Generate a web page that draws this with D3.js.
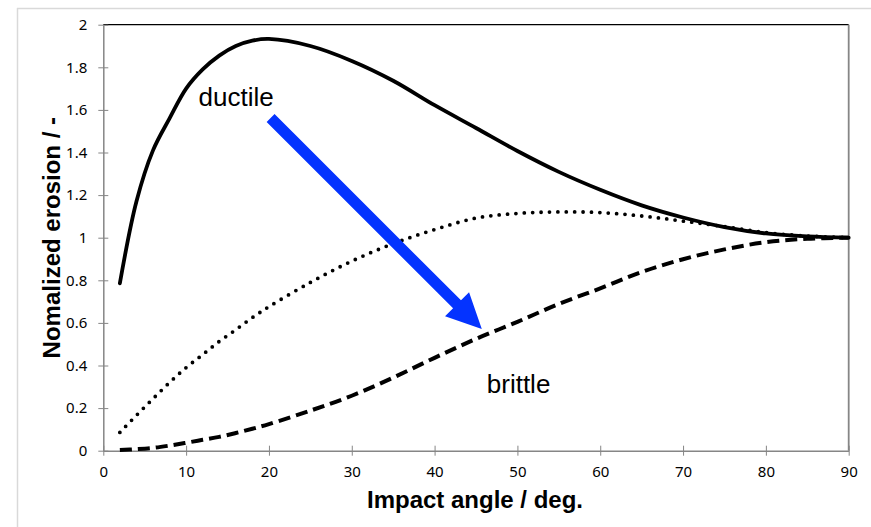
<!DOCTYPE html>
<html>
<head>
<meta charset="utf-8">
<script src="https://cdn.jsdelivr.net/npm/d3@7"></script>
<style>
  html, body { margin: 0; padding: 0; background: #fff; }
  svg { display: block; }
</style>
</head>
<body>
<svg id="chart" width="871" height="527"></svg>
<script>
// Impact angle in degrees (shared by all three curves)
const angles = [2, 4, 6, 8, 10, 12, 14, 16, 18, 20, 25, 30, 35, 40, 45, 50, 55, 60, 65, 70, 75, 80, 85, 90];

// Normalized erosion for the three material behaviours
const ductileValues = [0.786, 1.17, 1.41, 1.56, 1.70, 1.79, 1.855, 1.90, 1.925, 1.933, 1.90, 1.83, 1.737, 1.622, 1.515, 1.407, 1.309, 1.225, 1.152, 1.095, 1.05, 1.02, 1.006, 1.0];
const intermediateValues = [0.086, 0.166, 0.244, 0.32, 0.39, 0.451, 0.513, 0.568, 0.625, 0.676, 0.79, 0.89, 0.972, 1.038, 1.092, 1.114, 1.121, 1.118, 1.102, 1.078, 1.052, 1.024, 1.008, 1.0];
const brittleValues = [0.003, 0.007, 0.013, 0.024, 0.037, 0.051, 0.065, 0.083, 0.103, 0.125, 0.188, 0.258, 0.343, 0.436, 0.525, 0.605, 0.689, 0.762, 0.839, 0.899, 0.945, 0.979, 0.995, 1.0];

// Axis ticks
const xTicks = [0, 10, 20, 30, 40, 50, 60, 70, 80, 90];
const yTicks = [0, 0.2, 0.4, 0.6, 0.8, 1, 1.2, 1.4, 1.6, 1.8, 2];

// Annotation arrow, from ductile towards brittle (angle, erosion)
const arrowFrom = [20.2, 1.562];
const arrowTo = [45.7, 0.571];

// Text labels placed in data units (angle, erosion)
const labels = [
  { text: "ductile", at: [11.5, 1.616] },
  { text: "brittle", at: [46.3, 0.270] }
];

const svg = d3.select("#chart");
const plot = { left: 103.3, right: 848.7, top: 24.7, bottom: 450.7 };

const x = d3.scaleLinear().domain([0, 90]).range([plot.left, plot.right]);
const y = d3.scaleLinear().domain([0, 2]).range([plot.bottom, plot.top]);

// Chart area frame (top and left edges visible)
svg.append("line").attr("x1", 17).attr("x2", 871).attr("y1", 8.5).attr("y2", 8.5)
  .attr("stroke", "#d9d9d9").attr("stroke-width", 1.5);
svg.append("line").attr("x1", 17.5).attr("x2", 17.5).attr("y1", 8).attr("y2", 527)
  .attr("stroke", "#d9d9d9").attr("stroke-width", 1.5);

// Plot area: black top edge, grey right edge
svg.append("line").attr("x1", plot.left).attr("x2", plot.right).attr("y1", plot.top).attr("y2", plot.top)
  .attr("stroke", "#000").attr("stroke-width", 1.2);
svg.append("line").attr("x1", plot.right).attr("x2", plot.right).attr("y1", plot.top).attr("y2", plot.bottom)
  .attr("stroke", "#868686").attr("stroke-width", 1.8);

const tickFont = "'Noto Sans', 'Open Sans', sans-serif";

// X axis
const xAxis = d3.axisBottom(x).tickValues(xTicks).tickFormat(d3.format("d")).tickSizeInner(5).tickSizeOuter(0).tickPadding(11);
const gx = svg.append("g").attr("transform", `translate(0,${plot.bottom})`).call(xAxis);
gx.select(".domain").attr("stroke", "#868686").attr("stroke-width", 1.5);
gx.selectAll(".tick line").attr("stroke", "#868686").attr("y1", -5).attr("y2", 5);
gx.selectAll(".tick text").attr("font-family", tickFont).attr("font-size", 15).attr("fill", "#000");

// Y axis
const yAxis = d3.axisLeft(y).tickValues(yTicks).tickFormat(d => d3.format("~g")(d)).tickSizeInner(5).tickSizeOuter(0).tickPadding(11);
const gy = svg.append("g").attr("transform", `translate(${plot.left},0)`).call(yAxis);
gy.select(".domain").attr("stroke", "#868686").attr("stroke-width", 1.5);
gy.selectAll(".tick line").attr("stroke", "#868686").attr("x1", -5).attr("x2", 5);
gy.selectAll(".tick text").attr("font-family", tickFont).attr("font-size", 15).attr("fill", "#000");

// Curves
const line = d3.line()
  .x(d => x(d[0]))
  .y(d => y(d[1]))
  .curve(d3.curveCatmullRom.alpha(0.5));

const series = [
  { values: intermediateValues, width: 3.8, dash: "0 8.4", cap: "round" },
  { values: brittleValues, width: 4, dash: "12 6", cap: "butt" },
  { values: ductileValues, width: 3.8, dash: null, cap: "round" }
];

series.forEach(s => {
  svg.append("path")
    .datum(angles.map((a, i) => [a, s.values[i]]))
    .attr("d", line)
    .attr("fill", "none")
    .attr("stroke", "#000")
    .attr("stroke-width", s.width)
    .attr("stroke-linecap", s.cap)
    .attr("stroke-linejoin", "round")
    .attr("stroke-dasharray", s.dash);
});

// Blue arrow
(function drawArrow() {
  const x0 = x(arrowFrom[0]), y0 = y(arrowFrom[1]);
  const x1 = x(arrowTo[0]), y1 = y(arrowTo[1]);
  const dx = x1 - x0, dy = y1 - y0;
  const len = Math.hypot(dx, dy);
  const ux = dx / len, uy = dy / len;
  const px = -uy, py = ux;
  const shaftHalf = 5.6, headHalf = 17, headLen = 35;
  const bx = x1 - ux * headLen, by = y1 - uy * headLen;
  const pts = [
    [x0 + px * shaftHalf, y0 + py * shaftHalf],
    [bx + px * shaftHalf, by + py * shaftHalf],
    [bx + px * headHalf, by + py * headHalf],
    [x1, y1],
    [bx - px * headHalf, by - py * headHalf],
    [bx - px * shaftHalf, by - py * shaftHalf],
    [x0 - px * shaftHalf, y0 - py * shaftHalf]
  ];
  svg.append("polygon")
    .attr("points", pts.map(p => p.join(",")).join(" "))
    .attr("fill", "#0433ff");
})();

// Curve labels
svg.selectAll("text.curve-label")
  .data(labels)
  .enter().append("text")
  .attr("class", "curve-label")
  .attr("x", d => x(d.at[0]))
  .attr("y", d => y(d.at[1]))
  .attr("font-family", "'Liberation Sans', Arial, sans-serif")
  .attr("font-size", 26)
  .attr("fill", "#000")
  .text(d => d.text);

// Axis titles
svg.append("text")
  .attr("x", 475)
  .attr("y", 508)
  .attr("text-anchor", "middle")
  .attr("font-family", "'Liberation Sans', Arial, sans-serif")
  .attr("font-weight", "bold")
  .attr("font-size", 24)
  .attr("fill", "#000")
  .text("Impact angle / deg.");

svg.append("text")
  .attr("transform", `translate(60,${(plot.top + plot.bottom) / 2}) rotate(-90)`)
  .attr("text-anchor", "middle")
  .attr("font-family", "'Liberation Sans', Arial, sans-serif")
  .attr("font-weight", "bold")
  .attr("font-size", 24)
  .attr("fill", "#000")
  .text("Nomalized erosion / -");
</script>
</body>
</html>
